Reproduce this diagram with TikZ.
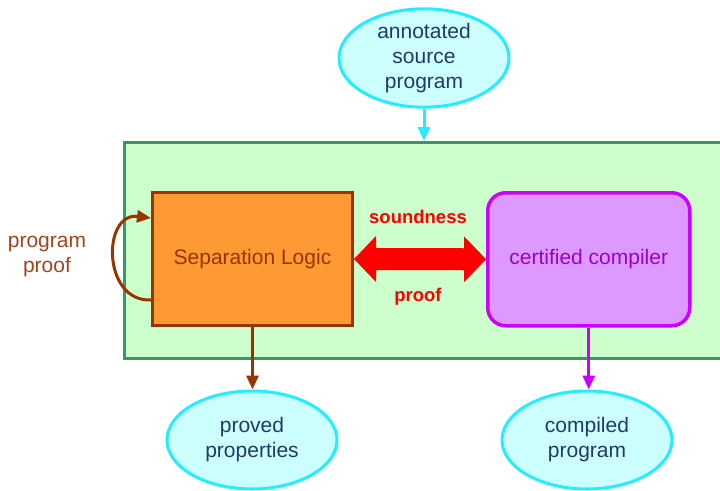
\documentclass[tikz,border=0pt]{standalone}
\usepackage{fontspec}
\setmainfont{Liberation Sans}
\usetikzlibrary{shapes.geometric,arrows.meta,calc}
\definecolor{gfill}{HTML}{CCFFCC}
\definecolor{gline}{HTML}{339966}
\definecolor{ofill}{HTML}{FF9933}
\definecolor{oline}{HTML}{993300}
\definecolor{pfill}{HTML}{DD99FF}
\definecolor{pline}{HTML}{CC00FF}
\definecolor{ptext}{HTML}{9900CC}
\definecolor{cfill}{HTML}{CCFFFF}
\definecolor{cline}{HTML}{22EEFF}
\definecolor{ctext}{HTML}{1F3A6B}
\definecolor{btext}{HTML}{A0461E}
\tikzset{
  ell/.style={ellipse, draw=cline, fill=cfill, line width=3pt, minimum width=170pt, minimum height=98pt, inner sep=0pt, text=ctext, align=center, font=\fontsize{21}{25}\selectfont},
  conn/.style={line width=3pt, -{Triangle[length=14pt,width=12pt]}},
  lbl/.style={font=\fontsize{18.5}{22}\selectfont\bfseries, text=red},
}
\begin{document}
\begin{tikzpicture}[x=1pt,y=-1pt]
\clip (0,0) rectangle (720,490);
\fill[white] (0,0) rectangle (720,490);
\node[draw=gline, fill=gfill, line width=3pt, minimum width=610pt, minimum height=216pt, anchor=north west, inner sep=0pt] (env) at (123,141) {};
\node[draw=oline, fill=ofill, line width=3pt, minimum width=200pt, minimum height=133pt, anchor=north west, inner sep=0pt, text=oline, font=\fontsize{21}{24}\selectfont] (sl) at (151,191) {Separation Logic};
\node[draw=pline, fill=pfill, line width=3.5pt, rounded corners=18pt, minimum width=202pt, minimum height=133pt, anchor=north west, inner sep=0pt, text=ptext, font=\fontsize{21}{24}\selectfont] (cc) at (486,191) {certified compiler};
\node[ell] (src) at (424,58) {annotated\\source\\program};
\node[ell] (pp) at (252,440) {proved\\properties};
\node[ell] (cp) at (587,440) {compiled\\program};
\draw[conn, cline] (src.south) -- (src.south |- env.north);
\draw[conn, oline] (sl.south) -- (sl.south |- pp.north);
\draw[conn, pline] (cc.south) -- (cc.south |- cp.north);
\draw[conn, oline] ($(sl.north west)+(0,109)$) .. controls (102,302) and (102,212) .. ($(sl.north west)+(0,27)$);
\node[text=btext, align=center, font=\fontsize{21}{25}\selectfont] (pgp) at (47,257) {program\\proof};
\fill[red] (sl.east) -- ++(22,-23) -- ++(0,12) -- ($(cc.west)+(-22,-11)$) -- ++(0,-12) -- (cc.west) -- ++(-22,23) -- ++(0,-12) -- ($(sl.east)+(22,11)$) -- ++(0,12) -- cycle;
\node[lbl] (snd) at (418,217) {soundness};
\node[lbl] (prf) at (418,297) {proof};
\end{tikzpicture}
\end{document}
